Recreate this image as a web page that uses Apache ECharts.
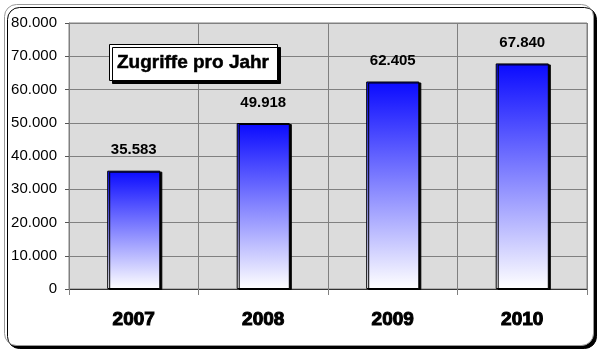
<!DOCTYPE html>
<html><head><meta charset="utf-8">
<script src="https://cdn.jsdelivr.net/npm/echarts@6/dist/echarts.min.js"></script>
<style>html,body{margin:0;padding:0;background:#fff}#c{width:600px;height:353px}</style>
</head><body><div id="c"></div>
<script>
var categories = ['2007', '2008', '2009', '2010'];
var values = [35583, 49918, 62405, 67840];
var yMin = 0, yMax = 80000, yStep = 10000;
var titleText = 'Zugriffe pro Jahr';

function fmt(n){
  var s = String(Math.round(n));
  return s.replace(/\B(?=(\d{3})+(?!\d))/g, '.');
}

var chart = echarts.init(document.getElementById('c'), null, {renderer:'canvas'});
chart.setOption({
  animation:false,
  graphic:[{
    type:'rect', z:-10, silent:true,
    shape:{x:4.5,y:4.5,width:589,height:341,r:12},
    style:{fill:'#fff', stroke:'#999', lineWidth:1, shadowColor:'#000', shadowOffsetX:3, shadowOffsetY:3, shadowBlur:0}
  }],
  title:{
    text:titleText, left:109, top:44,
    backgroundColor:'#fff', borderColor:'#000', borderWidth:1,
    padding:[9,8,8,8],
    shadowColor:'#000', shadowOffsetX:3, shadowOffsetY:3, shadowBlur:0,
    textStyle:{fontFamily:'Liberation Sans', fontWeight:'bold', fontSize:19, color:'#000', textBorderColor:'#000', textBorderWidth:0.5}
  },
  grid:{left:69, right:13, top:23, bottom:64, show:true, backgroundColor:'#dcdcdc', borderColor:'#808080', borderWidth:1},
  xAxis:{
    type:'category', data:categories,
    axisLine:{lineStyle:{color:'#333', width:1}},
    axisTick:{show:true, length:6, lineStyle:{color:'#808080'}},
    splitLine:{show:true, lineStyle:{color:'#808080', width:1}},
    axisLabel:{margin:21, fontFamily:'Liberation Sans', fontWeight:'bold', fontSize:19, color:'#000', textBorderColor:'#000', textBorderWidth:1}
  },
  yAxis:{
    type:'value', min:yMin, max:yMax, interval:yStep,
    axisLine:{show:true, lineStyle:{color:'#808080'}},
    axisTick:{show:true, length:4, lineStyle:{color:'#555'}},
    splitLine:{show:true, lineStyle:{color:'#808080', width:1}},
    axisLabel:{margin:12, fontFamily:'Liberation Sans', fontSize:15, color:'#000', formatter:function(v){return fmt(v);}}
  },
  series:[{
    type:'bar', data:values, barWidth:'41%',
    itemStyle:{
      color:new echarts.graphic.LinearGradient(0,0,0,1,[{offset:0,color:'#0a0aff'},{offset:1,color:'#ffffff'}]),
      borderColor:'#000', borderWidth:1,
      shadowColor:'#000', shadowOffsetX:2, shadowOffsetY:1, shadowBlur:0
    },
    label:{show:true, position:'top', distance:13, fontFamily:'Liberation Sans', fontWeight:'bold', fontSize:15, color:'#000', formatter:function(p){return fmt(p.value);}}
  }]
});
</script></body></html>
